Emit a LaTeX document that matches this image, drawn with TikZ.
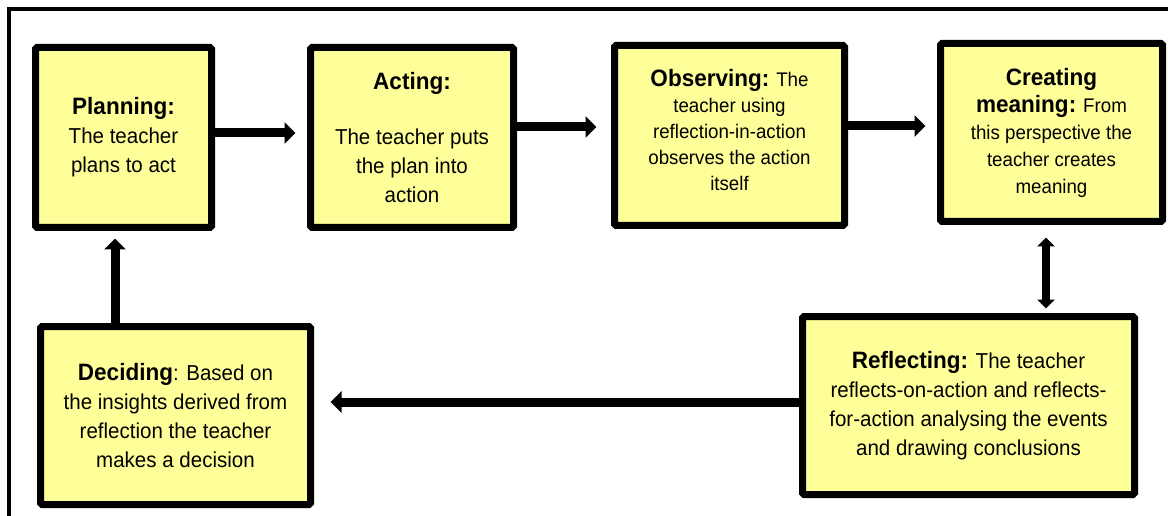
\documentclass[tikz,border=0pt]{standalone}
\usepackage{fontspec}
\setmainfont{Liberation Sans}[FakeStretch=0.95]
\usetikzlibrary{arrows.meta}
\definecolor{boxyellow}{HTML}{FFFF99}
\newcommand\stagehead[1]{{\fontsize{23.7pt}{29pt}\selectfont\bfseries #1}}

\begin{document}
\begin{tikzpicture}[x=1pt, y=1pt,
    box/.style={draw, line width=7pt, fill=boxyellow, rounded corners=1.5pt, align=center,
      inner sep=0pt, font=\fontsize{21.6pt}{29pt}\selectfont},
    small/.style={font=\fontsize{19.7pt}{26pt}\selectfont},
    arr/.style={line width=9pt, -{Triangle[length=11pt, width=21pt]}},
    dbl/.style={line width=8pt, {Triangle[length=9pt, width=17pt]}-{Triangle[length=9pt, width=17pt]}}]
  \useasboundingbox (0,0) rectangle (1168,515);
  \begin{scope}
    \clip (0,0) rectangle (1168,515);
    \draw[line width=4pt] (9,506) rectangle (1200,-20);
  \end{scope}

  \node[box, minimum width=176pt, minimum height=180pt] (plan) at (123.5,377.5)
    {\stagehead{Planning:}\\The teacher\\plans to act};
  \node[box, minimum width=203pt, minimum height=180pt] (act) at (412,377.5)
    {\stagehead{Acting:}\\[26pt]The teacher puts\\the plan into\\action};
  \node[box, small, text depth=12pt, minimum width=230pt, minimum height=180pt] (obs) at (729.5,379.5)
    {\stagehead{Observing:} The\\teacher using\\reflection-in-action\\observes the action\\itself};
  \node[box, font=\fontsize{19.7pt}{27pt}\selectfont, minimum width=222pt, minimum height=178pt] (mean) at (1051.5,382.5)
    {\stagehead{Creating}\\\stagehead{meaning:} From\\this perspective the\\teacher creates\\meaning};
  \node[box, minimum width=332pt, minimum height=178pt] (refl) at (968.5,109.5)
    {\stagehead{Reflecting:} The teacher\\reflects-on-action and reflects-\\for-action analysing the events\\and drawing conclusions};
  \node[box, minimum width=270pt, minimum height=178pt] (dec) at (175.5,99.5)
    {\stagehead{Deciding}: Based on\\the insights derived from\\reflection the teacher\\makes a decision};

  \foreach \from/\to/\dy/\gap in {plan/act/4.5/11.5, act/obs/10.5/14.5, obs/mean/9.5/11.5}
    \draw[arr, shorten >=\gap pt] ([yshift=\dy pt]\from.east) -- ([yshift=\dy pt]\from.east -| \to.west);
  \draw[dbl, shorten <=4.5pt, shorten >=12.5pt] ([xshift=77.5pt]refl.north) -- ([xshift=77.5pt]refl.north |- mean.south);
  \draw[arr, shorten >=16.5pt] ([yshift=3.5pt]refl.west) -- ([yshift=3.5pt]refl.west -| dec.east);
  \draw[arr, shorten >=7.5pt] ([xshift=-60.5pt]dec.north) -- ([xshift=-60.5pt]dec.north |- plan.south);
\end{tikzpicture}
\end{document}
